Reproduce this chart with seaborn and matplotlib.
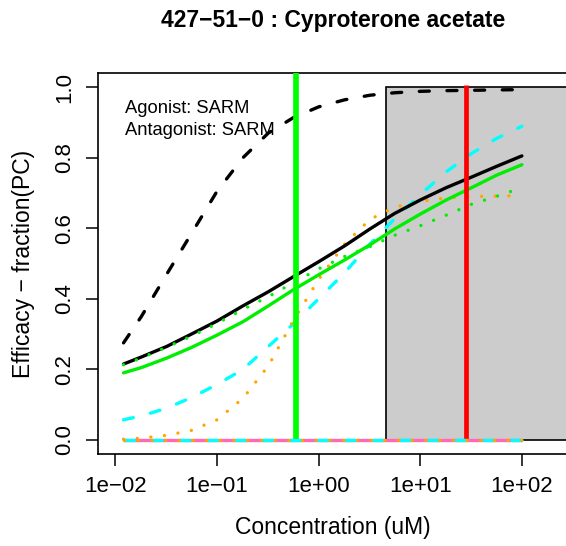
import matplotlib
matplotlib.use("Agg")
import matplotlib.pyplot as plt
import seaborn as sns
import pandas as pd
from matplotlib.patches import Rectangle

conc = [0.012, 0.018, 0.032, 0.056, 0.1, 0.18, 0.32, 0.56, 1.0, 1.8,
        3.2, 5.6, 10, 18, 32, 56, 100]

# efficacy (fraction of positive control) per curve
black_solid = [0.215, 0.235, 0.265, 0.300, 0.337, 0.380, 0.420, 0.462, 0.505,
               0.550, 0.598, 0.642, 0.680, 0.715, 0.745, 0.775, 0.805]
black_dashed = [0.275, 0.350, 0.470, 0.585, 0.705, 0.800, 0.870, 0.913, 0.944,
                0.964, 0.977, 0.984, 0.988, 0.990, 0.991, 0.992, 0.993]
cyan_dashed = [0.057, 0.068, 0.090, 0.120, 0.157, 0.200, 0.265, 0.328, 0.400,
               0.474, 0.555, 0.627, 0.695, 0.760, 0.812, 0.854, 0.889]
orange_dotted = [0.002, 0.005, 0.013, 0.027, 0.057, 0.118, 0.210, 0.337, 0.455,
                 0.555, 0.625, 0.660, 0.676, 0.686, 0.690, 0.691, 0.692]
green_solid = [0.190, 0.205, 0.232, 0.262, 0.297, 0.335, 0.380, 0.425, 0.468,
               0.510, 0.553, 0.598, 0.640, 0.680, 0.715, 0.750, 0.780]
green_dotted = [0.213, 0.232, 0.263, 0.294, 0.330, 0.370, 0.406, 0.445, 0.485,
                0.520, 0.548, 0.580, 0.607, 0.637, 0.668, 0.690, 0.715]

# inactive curves lying flat on zero
zero_conc = [0.012, 100]
zero_eff = [0.0, 0.0]

agonist_ac50 = 0.594
antagonist_ac50 = 28.4
cytotox_lim = 4.57

x_ticks = [0.01, 0.1, 1, 10, 100]
x_tick_labels = ["1e\u221202", "1e\u221201", "1e+00", "1e+01", "1e+02"]
y_ticks = [0.0, 0.2, 0.4, 0.6, 0.8, 1.0]
y_tick_labels = ["0.0", "0.2", "0.4", "0.6", "0.8", "1.0"]

sns.set_style("white")
plt.rcParams["font.family"] = ["Liberation Sans", "DejaVu Sans"]
plt.rcParams["text.color"] = "black"
plt.rcParams["axes.labelcolor"] = "black"
plt.rcParams["xtick.color"] = "black"
plt.rcParams["ytick.color"] = "black"

fig = plt.figure(figsize=(5.66, 5.46), dpi=100)
# the plot region runs a couple of pixels past the right edge of the image
ax = fig.add_axes([98 / 566, 92 / 546, 470 / 566, 381 / 546])
ax.set_xscale("log")
ax.set_xlim(10 ** -2.172, 10 ** 2.454)
ax.set_ylim(-0.04, 1.04)

# cytotoxicity region
ax.add_patch(Rectangle((cytotox_lim, 0), 1e4, 1.0, facecolor="#cccccc",
                       edgecolor="black", lw=1.2, zorder=1))

lw = 2.4
dash = (3, 5.3)
dot = (0.01, 4.1)
curves = [
    (black_dashed, "black", dash),
    (cyan_dashed, "#00ffff", dash),
    (orange_dotted, "#ffa500", dot),
    (black_solid, "black", None),
    (green_solid, "#00ee00", None),
    (green_dotted, "#00ee00", dot),
]
for vals, col, pattern in curves:
    df = pd.DataFrame({"conc": conc, "eff": vals})
    line_kw = dict(color=col, lw=lw, solid_capstyle="round",
                   dash_capstyle="round", zorder=3)
    sns.lineplot(data=df, x="conc", y="eff", ax=ax, **line_kw)
    if pattern is not None:
        ax.lines[-1].set_dashes(pattern)

# potency markers
ax.plot([agonist_ac50, agonist_ac50], [0, 1.1], color="#00ff00", lw=4.1,
        solid_capstyle="butt", zorder=4)
ax.plot([antagonist_ac50, antagonist_ac50], [0, 1.005], color="#ff0000", lw=3.4,
        solid_capstyle="butt", zorder=4)

zero_df = pd.DataFrame({"conc": zero_conc, "eff": zero_eff})
for col, pattern in [("#ff69b4", None), ("#00ffff", dash), ("#ffa500", dot)]:
    sns.lineplot(data=zero_df, x="conc", y="eff", ax=ax, color=col, lw=lw,
                 solid_capstyle="butt", dash_capstyle="round", zorder=5)
    if pattern is not None:
        ax.lines[-1].set_dashes(pattern)

ax.text(0.0578, 0.894, "Agonist: SARM", transform=ax.transAxes,
        fontsize=13.2, va="baseline", ha="left")
ax.text(0.0578, 0.837, "Antagonist: SARM", transform=ax.transAxes,
        fontsize=13.2, va="baseline", ha="left")

ax.set_xticks(x_ticks)
ax.set_xticklabels(x_tick_labels, fontsize=16)
ax.minorticks_off()
ax.set_yticks(y_ticks)
ax.set_yticklabels(y_tick_labels, fontsize=16, rotation=90, va="center")
ax.tick_params(axis="both", direction="out", length=8.5, width=1.1,
               color="black", bottom=True, left=True)
ax.tick_params(axis="x", pad=7)
ax.tick_params(axis="y", pad=8)

for sp in ax.spines.values():
    sp.set_color("black")
    sp.set_linewidth(1.2)

ax.set_xlabel("Concentration (uM)", fontsize=16.5, labelpad=14)
ax.set_ylabel("Efficacy \u2212 fraction(PC)", fontsize=16.5, labelpad=14)
ax.set_title("427\u221251\u22120 : Cyproterone acetate", fontsize=16.5,
             fontweight="bold", pad=33)

fig.savefig("out.png", dpi=100)
